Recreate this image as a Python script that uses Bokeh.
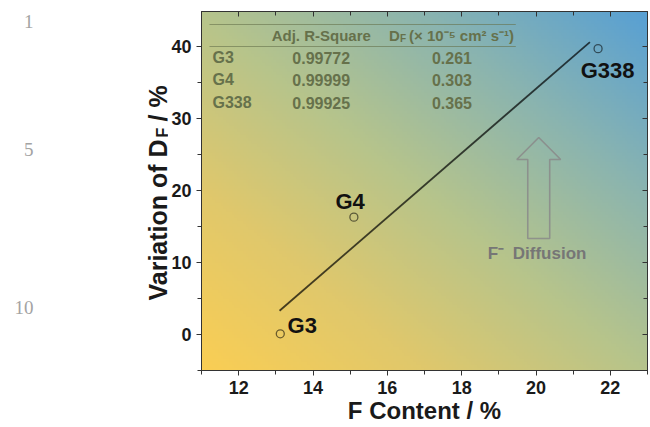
import numpy as np
from bokeh.plotting import figure
from bokeh.layouts import row
from bokeh.models import Range1d, LinearAxis, Label, SingleIntervalTicker
from bokeh.embed import file_html
from bokeh.resources import INLINE

# ---------------- data ----------------
samples = ["G3", "G4", "G338"]
f_content = [13.12, 15.1, 21.67]
variation = [0.1, 16.3, 39.7]
fit_x = [13.1, 21.45]
fit_y = [3.3, 40.6]
adj_r2 = ["0.99772", "0.99999", "0.99925"]
d_f = ["0.261", "0.303", "0.365"]
line_numbers = ["1", "5", "10"]

# ---------------- geometry ----------------
LW = 168                 # width of the left (title) strip
W, H = 650 - LW, 427     # main figure
X0, X1 = 11, 23
Y0, Y1 = -5, 44.86
FL, FR, FT, FB = 200, 647, 11, 370  # page pixels of the frame


def dx(px):
    return X0 + (px - FL) * (X1 - X0) / (FR - FL)


def dy(py):
    return Y0 + (FB - py) * (Y1 - Y0) / (FB - FT)


FONT = "Liberation Sans"
INK = "#1a1a1a"

p = figure(width=W, height=H, x_range=Range1d(X0, X1), y_range=Range1d(Y0, Y1),
           output_backend="svg", toolbar_location=None,
           min_border_left=FL - LW, min_border_right=650 - FR, min_border_top=FT,
           min_border_bottom=H - FB)
p.grid.visible = False
p.outline_line_color = "#333333"
p.background_fill_color = "white"

# ---------------- gradient background ----------------
ny, nx = 120, 160
u = np.linspace(0, 1, nx)[None, :]
v = np.linspace(0, 1, ny)[:, None]
t = (u + v) / 2.0
st = [0.0, 0.25, 0.5, 0.75, 1.0]
R = np.interp(t, st, [250, 224, 182, 138, 88])
G = np.interp(t, st, [206, 200, 196, 180, 160])
B = np.interp(t, st, [84, 108, 140, 176, 212])
img = np.empty((ny, nx), dtype=np.uint32)
view = img.view(dtype=np.uint8).reshape((ny, nx, 4))
view[:, :, 0] = R.astype(np.uint8)
view[:, :, 1] = G.astype(np.uint8)
view[:, :, 2] = B.astype(np.uint8)
view[:, :, 3] = 255
p.image_rgba(image=[img], x=X0, y=Y0, dw=X1 - X0, dh=Y1 - Y0, level="image")

# ---------------- axes ----------------
p.xaxis[0].ticker = SingleIntervalTicker(interval=2, num_minor_ticks=2)
p.yaxis[0].ticker = SingleIntervalTicker(interval=10, num_minor_ticks=2)
for ax in (p.xaxis[0], p.yaxis[0]):
    ax.major_label_text_font = FONT
    ax.major_label_text_font_style = "bold"
    ax.major_label_text_font_size = "18px"
    ax.major_label_text_color = INK
    ax.axis_line_color = "#333333"
    ax.major_tick_line_color = "#333333"
    ax.minor_tick_line_color = "#333333"
    ax.major_tick_out = 5
    ax.major_tick_in = 0
    ax.minor_tick_out = 4
    ax.minor_tick_in = 0
    ax.major_label_standoff = 5

p.xaxis[0].axis_label = "F Content / %"
p.xaxis[0].axis_label_text_font = FONT
p.xaxis[0].axis_label_text_font_style = "bold"
p.xaxis[0].axis_label_text_font_size = "24px"
p.xaxis[0].axis_label_text_color = INK
p.xaxis[0].axis_label_standoff = 0

top = LinearAxis(ticker=SingleIntervalTicker(interval=2, num_minor_ticks=2))
right = LinearAxis(ticker=SingleIntervalTicker(interval=10, num_minor_ticks=2))
for ax in (top, right):
    ax.major_tick_in = 5
    ax.major_tick_out = 0
    ax.minor_tick_in = 4
    ax.minor_tick_out = 0
    ax.major_label_text_color = None
    ax.major_label_standoff = 0
    ax.axis_line_color = "#333333"
    ax.major_tick_line_color = "#333333"
    ax.minor_tick_line_color = "#333333"
p.add_layout(top, "above")
p.add_layout(right, "right")

# ---------------- data marks ----------------
p.line(fit_x, fit_y, line_color="black", line_alpha=0.7, line_width=1.8)
p.scatter(f_content, variation, marker="circle", size=8, fill_color=None,
          line_color="black", line_alpha=0.55, line_width=1.3)

label_px = [(301, 325), (349, 201), (607, 70)]
for name, (lx, ly) in zip(samples, label_px):
    p.add_layout(Label(x=dx(lx), y=dy(ly), text=name, text_font=FONT, text_font_style="bold",
                       text_font_size="22px", text_color="#111111", text_align="center",
                       text_baseline="middle"))

# ---------------- table ----------------
TC = "#66714b"
p.segment(x0=[dx(208), dx(208)], y0=[dy(24), dy(46)], x1=[dx(515), dx(515)], y1=[dy(24), dy(46)],
          line_color=TC, line_alpha=0.6, line_width=1.2)


def tlabel(px, py, text, align="left", size="16px", baseline="middle", style="bold"):
    p.add_layout(Label(x=dx(px), y=dy(py), text=text, text_font=FONT, text_font_style=style,
                       text_font_size=size, text_color=TC, text_align=align,
                       text_baseline=baseline))


tlabel(320, 35, "Adj. R-Square", align="center", size="15px")
tlabel(388, 35, "D", size="15px")
tlabel(399, 38, "F", size="10px")
tlabel(408, 35, "(× 10⁻⁵ cm² s⁻¹)", size="15px")
row_y = [57, 79, 102]
for name, r2, d, ry in zip(samples, adj_r2, d_f, row_y):
    tlabel(211, ry, name)
    tlabel(320, ry, r2, align="center")
    tlabel(451, ry, d, align="center")

# ---------------- arrow ----------------
ax_px = [538, 560, 549, 549, 527, 527, 516]
ay_px = [137, 159, 159, 238, 238, 159, 159]
p.patch([dx(a) for a in ax_px], [dy(b) for b in ay_px], fill_alpha=0.0,
        line_color="#8a8a8a", line_alpha=0.85, line_width=1.6)
for txt, tx in (("F⁻", 487), ("Diffusion", 512)):
    p.add_layout(Label(x=dx(tx), y=dy(253), text=txt, text_font=FONT,
                       text_font_style="bold", text_font_size="17px", text_color="#767676",
                       text_align="left", text_baseline="middle"))

# ---------------- left strip: y title and margin line numbers ----------------
# its frame is aligned with the main frame (page y 11..370), so map page pixels directly
s = figure(width=LW, height=H, x_range=Range1d(0, LW), y_range=Range1d(FB, FT),
           output_backend="svg", toolbar_location=None, x_axis_location=None,
           y_axis_location=None, min_border=0)
s.grid.visible = False
s.outline_line_color = None
s.background_fill_color = "white"

s.add_layout(Label(x=157, y=300, text="Variation of D", angle=np.pi / 2,
                   text_font=FONT, text_font_style="bold", text_font_size="25px",
                   text_color=INK, text_align="left", text_baseline="alphabetic"))
s.add_layout(Label(x=162, y=137, text="F", angle=np.pi / 2,
                   text_font=FONT, text_font_style="bold", text_font_size="16px",
                   text_color=INK, text_align="left", text_baseline="alphabetic"))
s.add_layout(Label(x=157, y=121, text="/ %", angle=np.pi / 2,
                   text_font=FONT, text_font_style="bold", text_font_size="25px",
                   text_color=INK, text_align="left", text_baseline="alphabetic"))

for num, ny_px in zip(line_numbers, [21, 149, 307]):
    s.add_layout(Label(x=33, y=ny_px, text=num, text_font="Liberation Serif",
                       text_font_size="19px", text_color="#a3a3a3", text_align="right",
                       text_baseline="middle"))

layout = row(s, p, spacing=0)
open("out.html", "w").write(file_html(layout, INLINE))
